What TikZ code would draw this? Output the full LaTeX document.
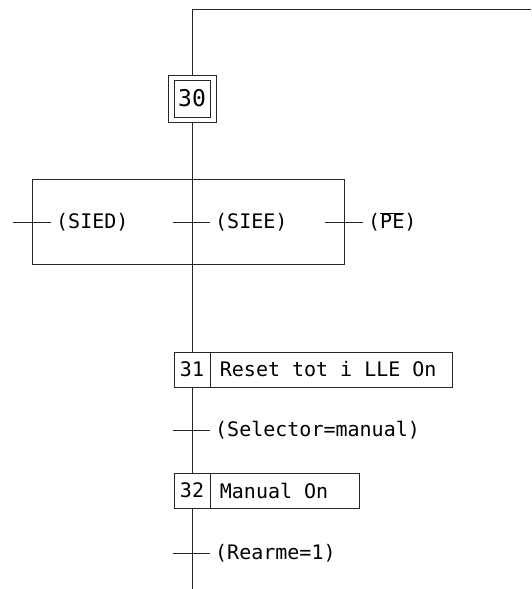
\documentclass[tikz,border=0pt]{standalone}
\usepackage{fontspec}
\setmonofont{DejaVu Sans Mono}
\newcommand{\wsp}{\hspace*{12pt}}
\begin{document}
\begin{tikzpicture}[x=1pt,y=-1pt,
  ln/.style={draw=black!85, line width=0.9pt},
  txt/.style={font=\ttfamily\fontsize{20}{24}\selectfont, inner sep=0pt},
  stepbox/.style={ln, txt, minimum width=36pt, minimum height=35pt, inner sep=0pt},
  actbox/.style={ln, txt, minimum height=35pt, anchor=west, inner xsep=9pt, inner ysep=0pt, align=left},
  initbox/.style={ln, minimum width=36pt, minimum height=37pt, inner sep=0pt, font=\ttfamily\fontsize{23}{26}\selectfont},
  initouter/.style={ln, minimum width=48pt, minimum height=47pt, inner sep=0pt},
  cond/.style={txt, anchor=west}
]
\useasboundingbox (0,0) rectangle (531,589);

% initial step 30 and return line
\node[initouter] (s30o) at (192,98.5) {};
\node[initbox] (s30) at (192,98.5) {30};
\coordinate (corner) at (192,9.5);
\coordinate (ret) at (531,9.5);
\draw[ln] (ret) -- (corner) -- (s30o.north);

% enclosing box with the three transitions
\node[ln, minimum width=312pt, minimum height=85pt, inner sep=0pt, anchor=north west] (grp) at (32,179) {};

\coordinate (T1a) at (13,222);  \coordinate (T1b) at (51,222);
\coordinate (T2a) at (173,222); \coordinate (T2b) at (210,222);
\coordinate (T3a) at (325,222); \coordinate (T3b) at (363,222);
\draw[ln] (T1a) -- (T1b);
\draw[ln] (T2a) -- (T2b);
\draw[ln] (T3a) -- (T3b);
\node[cond] (c1) at ([xshift=5pt]T1b) {(SIED)};
\node[cond] (c2) at ([xshift=5pt]T2b) {(SIEE)};
\node[cond] (c3) at ([xshift=5pt]T3b) {(\ensuremath{\overline{\hbox{PE}}})};

% step 31
\node[stepbox] (s31) at (192,369.5) {31};
\node[actbox, text width=224pt] (a31) at (s31.east) {Reset\wsp tot\wsp i\wsp LLE\wsp On};

% transition selector
\coordinate (T4a) at (173,430); \coordinate (T4b) at (210,430);
\draw[ln] (T4a) -- (T4b);
\node[cond] (c4) at ([xshift=5pt]T4b) {(Selector=manual)};

% step 32
\node[stepbox] (s32) at (192,490.5) {32};
\node[actbox, text width=131pt] (a32) at (s32.east) {Manual\wsp On};

% transition rearme
\coordinate (T5a) at (173,553); \coordinate (T5b) at (210,553);
\draw[ln] (T5a) -- (T5b);
\node[cond] (c5) at ([xshift=5pt]T5b) {(Rearme=1)};

% main vertical line
\coordinate (endl) at (192,589);
\draw[ln] (s30o.south) -- (s31.north);
\draw[ln] (s31.south) -- (s32.north);
\draw[ln] (s32.south) -- (endl);
\end{tikzpicture}
\end{document}
